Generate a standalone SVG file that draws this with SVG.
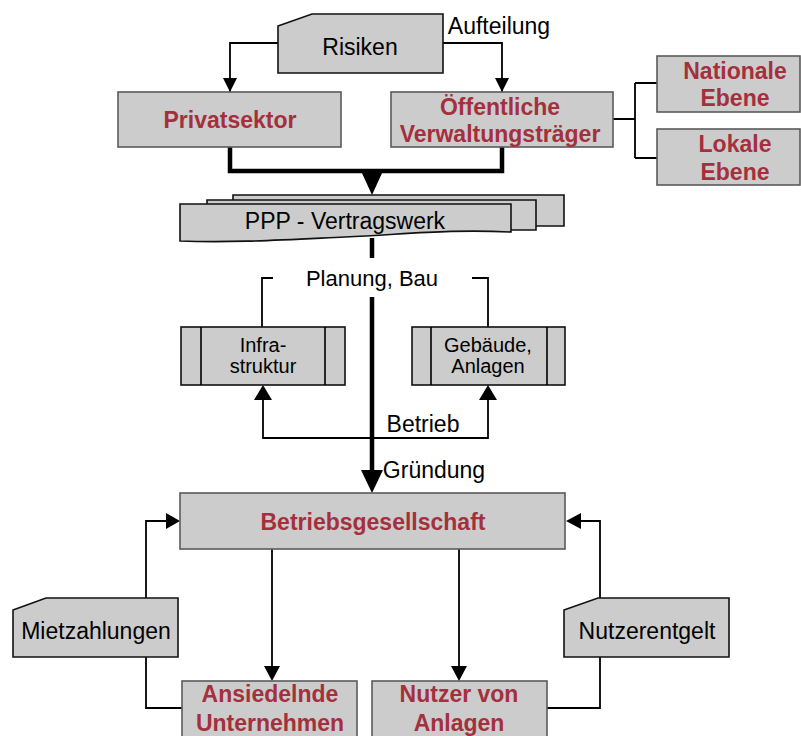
<svg xmlns="http://www.w3.org/2000/svg" width="801" height="736" viewBox="0 0 801 736">
<defs>
<style>
.box{fill:#cccccc;stroke:#5a5a5a;stroke-width:1.6}
.bbox{fill:#cccccc;stroke:#111;stroke-width:1.6}
.t{font-family:"Liberation Sans",Arial,sans-serif;font-size:23px;fill:#000;text-anchor:middle}
.ts{font-family:"Liberation Sans",Arial,sans-serif;font-size:20px;fill:#000;text-anchor:middle}
.r{font-family:"Liberation Sans",Arial,sans-serif;font-size:23px;font-weight:bold;fill:#a3303c;text-anchor:middle}
.ln{fill:none;stroke:#000;stroke-width:1.8}
.thick{fill:none;stroke:#000;stroke-width:4.5}
</style>
<marker id="ah" viewBox="0 0 10 10" refX="10" refY="5" markerWidth="14" markerHeight="14" markerUnits="userSpaceOnUse" orient="auto">
<path d="M0,0 L10,5 L0,10 Z" fill="#000"/>
</marker>
</defs>

<g id="connectors">
<path class="ln" d="M278,43 H230 V92" marker-end="url(#ah)"/>
<path class="ln" d="M443,43 H502 V92" marker-end="url(#ah)"/>
<path class="thick" d="M230,147 V171 H502 V147"/>
<path d="M361,171 L383,171 L372,195 Z" fill="#000"/>
<path class="ln" d="M613,119 H635 M635,83 V158 M635,83 H657 M635,158 H657"/>
<path class="thick" d="M372,238 V258"/>
<path class="thick" d="M372,297 V472"/>
<path d="M361,470 L383,470 L372,493 Z" fill="#000"/>
<path class="ln" d="M273,278 H262 V327"/>
<path class="ln" d="M472,278 H488 V327"/>
<path class="ln" d="M488,400 V438 H263 V400"/>
<path d="M254,400 L272,400 L263,385 Z" fill="#000"/>
<path d="M479,400 L497,400 L488,385 Z" fill="#000"/>
<path class="ln" d="M146,598 V521 H166"/>
<path d="M166,513 L180,521 L166,529 Z" fill="#000"/>
<path class="ln" d="M146,657 V708 H182"/>
<path class="ln" d="M600,598 V521 H581"/>
<path d="M581,513 L566,521 L581,529 Z" fill="#000"/>
<path class="ln" d="M600,657 V708 H547"/>
<path class="ln" d="M272,549 V667"/>
<path d="M264,666 L280,666 L272,681 Z" fill="#000"/>
<path class="ln" d="M459,549 V667"/>
<path d="M451,666 L467,666 L459,681 Z" fill="#000"/>
</g>

<g id="risiken">
<path class="bbox" d="M278,26 L312,14 H443 V73 H278 Z"/>
<text class="t" x="360" y="55">Risiken</text>
</g>
<g id="aufteilung-label">
<text class="t" x="499" y="34">Aufteilung</text>
</g>

<g id="privatsektor">
<rect class="box" x="118" y="92" width="223" height="55"/>
<text class="r" x="230" y="128">Privatsektor</text>
</g>

<g id="oeffentliche">
<rect class="box" x="391" y="92" width="222" height="55"/>
<text class="r" x="500" y="115">Öffentliche</text>
<text class="r" x="500" y="142">Verwaltungsträger</text>
</g>

<g id="nationale">
<rect class="box" x="657" y="56" width="143" height="56"/>
<text class="r" x="735" y="79">Nationale</text>
<text class="r" x="735" y="106">Ebene</text>
</g>

<g id="lokale">
<rect class="box" x="657" y="129" width="143" height="56"/>
<text class="r" x="735" y="152">Lokale</text>
<text class="r" x="735" y="180">Ebene</text>
</g>

<g id="ppp">
<path class="bbox" d="M233,195 H564 V226 L233,226 Z"/>
<path class="bbox" d="M207,200 H536 V230 L207,230 Z"/>
<path class="bbox" d="M180,204 H511 V232 C 450,229 410,234 345,237 C 280,240 230,243 180,241 Z"/>
<text class="t" x="345" y="229">PPP - Vertragswerk</text>
</g>

<g id="planung-label">
<text class="t" x="372" y="286" style="font-size:22px">Planung, Bau</text>
</g>

<g id="infrastruktur">
<rect class="bbox" x="181" y="327" width="164" height="58"/>
<path class="ln" d="M201,327 V385 M325,327 V385" style="stroke-width:1.6"/>
<text class="ts" x="263" y="352">Infra-</text>
<text class="ts" x="263" y="373">struktur</text>
</g>

<g id="gebaeude">
<rect class="bbox" x="412" y="327" width="153" height="58"/>
<path class="ln" d="M431,327 V385 M547,327 V385" style="stroke-width:1.6"/>
<text class="ts" x="488" y="352">Gebäude,</text>
<text class="ts" x="488" y="373">Anlagen</text>
</g>

<g id="betrieb-label">
<text class="t" x="423" y="432">Betrieb</text>
</g>
<g id="gruendung-label">
<text class="t" x="434" y="478">Gründung</text>
</g>

<g id="betriebsgesellschaft">
<rect class="box" x="180" y="493" width="385" height="56"/>
<text class="r" x="373" y="530">Betriebsgesellschaft</text>
</g>

<g id="mietzahlungen">
<path class="bbox" d="M13,610 L46,598 H178 V657 H13 Z"/>
<text class="t" x="96" y="639">Mietzahlungen</text>
</g>

<g id="nutzerentgelt">
<path class="bbox" d="M564,610 L598,598 H729 V657 H564 Z"/>
<text class="t" x="647" y="639">Nutzerentgelt</text>
</g>

<g id="ansiedelnde">
<rect class="box" x="182" y="681" width="175" height="60"/>
<text class="r" x="270" y="702">Ansiedelnde</text>
<text class="r" x="270" y="731">Unternehmen</text>
</g>

<g id="nutzer">
<rect class="box" x="372" y="681" width="175" height="60"/>
<text class="r" x="459" y="702">Nutzer von</text>
<text class="r" x="459" y="731">Anlagen</text>
</g>
</svg>
